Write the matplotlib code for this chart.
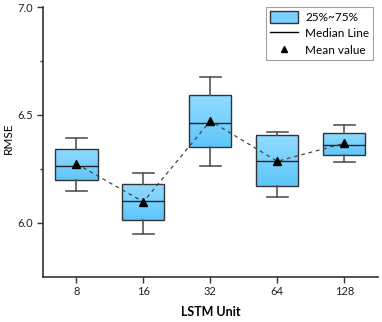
import matplotlib
matplotlib.use("Agg")
import matplotlib.pyplot as plt
import numpy as np
from matplotlib.patches import Patch, Rectangle
from matplotlib.lines import Line2D
from matplotlib.colors import LinearSegmentedColormap

categories = ["8", "16", "32", "64", "128"]
whisker_low = [6.148, 5.946, 6.264, 6.120, 6.280]
q1 = [6.196, 6.012, 6.349, 6.170, 6.313]
medians = [6.264, 6.099, 6.462, 6.287, 6.361]
q3 = [6.344, 6.181, 6.594, 6.409, 6.415]
whisker_high = [6.391, 6.230, 6.676, 6.420, 6.452]
means = [6.273, 6.097, 6.472, 6.285, 6.368]

plt.rcParams['font.family'] = ['Lato', 'DejaVu Sans']

fig = plt.figure(figsize=(3.82, 3.22), dpi=100)
ax = fig.add_axes([43/382, (322-276.7)/322, (377.7-43)/382, (276.7-7)/322])

stats = []
for i, c in enumerate(categories):
    stats.append(dict(label=c, whislo=whisker_low[i], q1=q1[i], med=medians[i],
                      q3=q3[i], whishi=whisker_high[i], mean=means[i]))
pos = np.arange(1, len(categories) + 1)
bp = ax.bxp(stats, positions=pos, widths=0.63, patch_artist=True, showmeans=False,
            showfliers=False,
            boxprops=dict(facecolor='none', edgecolor='#333333', linewidth=1.0),
            medianprops=dict(color='#222222', linewidth=1.0),
            whiskerprops=dict(color='#555555', linewidth=1.2),
            capprops=dict(color='#555555', linewidth=1.2),
            capwidths=0.32)

cmap = LinearSegmentedColormap.from_list('g', ['#5ec6fa', '#93dbff'])
grad = np.linspace(0, 1, 64).reshape(-1, 1)
for i, b in enumerate(bp['boxes']):
    x0 = pos[i] - 0.315
    im = ax.imshow(grad, cmap=cmap, aspect='auto', origin='lower',
                   extent=[x0, x0 + 0.63, q1[i], q3[i]], zorder=1.5)
    im.set_clip_path(b)
    b.set_zorder(2)

ax.plot(pos, means, linestyle=(0, (3, 3)), color='#444444', linewidth=0.9, zorder=3)
ax.plot(pos, means, linestyle='none', marker='^', color='black', markersize=6, zorder=4)

ax.set_xlim(0.5, 5.5)
ax.set_ylim(5.75, 7.0)
ax.set_xticks(pos)
ax.set_xticklabels(categories)
ax.set_yticks([6.0, 6.5, 7.0])
ax.set_yticklabels(["6.0", "6.5", "7.0"])
ax.set_yticks([6.25, 6.75], minor=True)
ax.tick_params(axis='both', which='major', direction='out', length=4, width=1.0,
               color='#333333', labelsize=8, labelcolor='#222222', pad=3)
ax.tick_params(axis='y', which='minor', direction='out', length=2, width=1.0, color='#333333')
for s in ['top', 'right']:
    ax.spines[s].set_visible(False)
for s in ['left', 'bottom']:
    ax.spines[s].set_color('#333333')
    ax.spines[s].set_linewidth(1.2)

ax.set_xlabel("LSTM Unit", fontsize=9, fontweight='bold', labelpad=6)
ax.set_ylabel("RMSE", fontsize=8.5)
ax.yaxis.set_label_coords(-0.087, 0.515)

handles = [Patch(facecolor='#78d0fb', edgecolor='#333333', linewidth=1.0),
           Line2D([], [], color='black', linewidth=1.0),
           Line2D([], [], linestyle='none', marker='^', color='black', markersize=5)]
leg = ax.legend(handles, ["25%~75%", "Median Line", "Mean value"],
                loc='upper right', bbox_to_anchor=(0.985, 1.0), fontsize=8.5,
                frameon=True, fancybox=False, edgecolor='#888888',
                handlelength=2.4, handleheight=1.3, borderpad=0.3, labelspacing=0.3,
                handletextpad=0.6, borderaxespad=0.0)
leg.get_frame().set_linewidth(0.8)

fig.savefig("out.png", dpi=100)
